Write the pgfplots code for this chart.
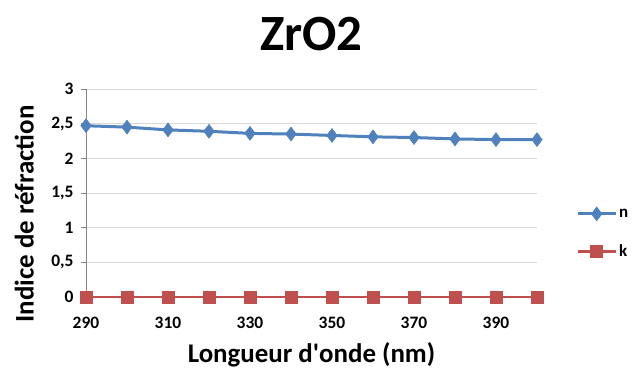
\documentclass[border=0pt]{standalone}
\usepackage{pgfplots}
\pgfplotsset{compat=1.18}
\usepackage{fontspec}
\setmainfont{Carlito}
\definecolor{nblue}{HTML}{4F81BD}
\definecolor{kred}{HTML}{C0504D}
\definecolor{gridgray}{HTML}{D9D9D9}
\definecolor{axisgray}{HTML}{868686}
\begin{document}
\begin{tikzpicture}
    \useasboundingbox (-86bp,-75bp) rectangle (550bp,297bp);
    \begin{axis}[
        scale only axis,
        width            = 451bp,
        height           = 208bp,
        xmin = 290, xmax = 400,
        ymin = 0,   ymax = 3,
        clip             = false,
        axis lines*      = left,
        axis line style  = {axisgray, line width=0.8bp, -},
        xtick            = {290,300,...,400},
        xticklabels      = {290,,310,,330,,350,,370,,390,},
        ytick            = {0,0.5,...,3},
        yticklabels      = {0,{0,5},1,{1,5},2,{2,5},3},
        tick align       = outside,
        major tick length= 5bp,
        tick style       = {axisgray, line width=0.8bp},
        ymajorgrids,
        grid style       = {gridgray, line width=0.8bp},
        tick label style = {font=\bfseries\fontsize{17.5}{17.5}\selectfont},
        xticklabel style = {yshift=-12bp},
        yticklabel style = {xshift=-4bp},
        title            = {ZrO2},
        title style      = {font=\bfseries\fontsize{51}{51}\selectfont,
                            at={(0.5,1)}, anchor=base, yshift=33bp},
        xlabel           = {Longueur d\textquotesingle onde (nm)},
        xlabel style     = {font=\bfseries\fontsize{27}{27}\selectfont,
                            at={(axis description cs:0.5,-0.279)}, anchor=center},
        ylabel           = {Indice de réfraction},
        ylabel style     = {font=\bfseries\fontsize{27}{27}\selectfont,
                            at={(axis description cs:-0.137,0.40)}, anchor=center},
        legend style     = {at={(1,0.305)}, anchor=west, xshift=36bp,
                            draw=none, fill=none, row sep=22bp,
                            font=\bfseries\fontsize{17}{17}\selectfont},
        legend cell align= left,
        legend image code/.code = {
            \draw[#1, mark repeat=2, mark phase=2]
                plot coordinates {(0bp,0bp) (19bp,0bp) (38bp,0bp)};}]

        \addplot[
            line width   = 3bp,
            color        = nblue,
            mark         = diamond*,
            mark size    = 7bp,
            mark options = {line width=0.5bp}]
            coordinates {
                (290,2.47) (300,2.45) (310,2.41) (320,2.39)
                (330,2.36) (340,2.35) (350,2.33) (360,2.31)
                (370,2.30) (380,2.28) (390,2.27) (400,2.27)
            };
        \addlegendentry{n}

        \addplot[
            line width   = 2.5bp,
            color        = kred,
            mark         = square*,
            mark size    = 6bp,
            mark options = {line width=0.5bp}]
            coordinates {
                (290,0) (300,0) (310,0) (320,0)
                (330,0) (340,0) (350,0) (360,0)
                (370,0) (380,0) (390,0) (400,0)
            };
        \addlegendentry{k}
    \end{axis}
\end{tikzpicture}
\end{document}
